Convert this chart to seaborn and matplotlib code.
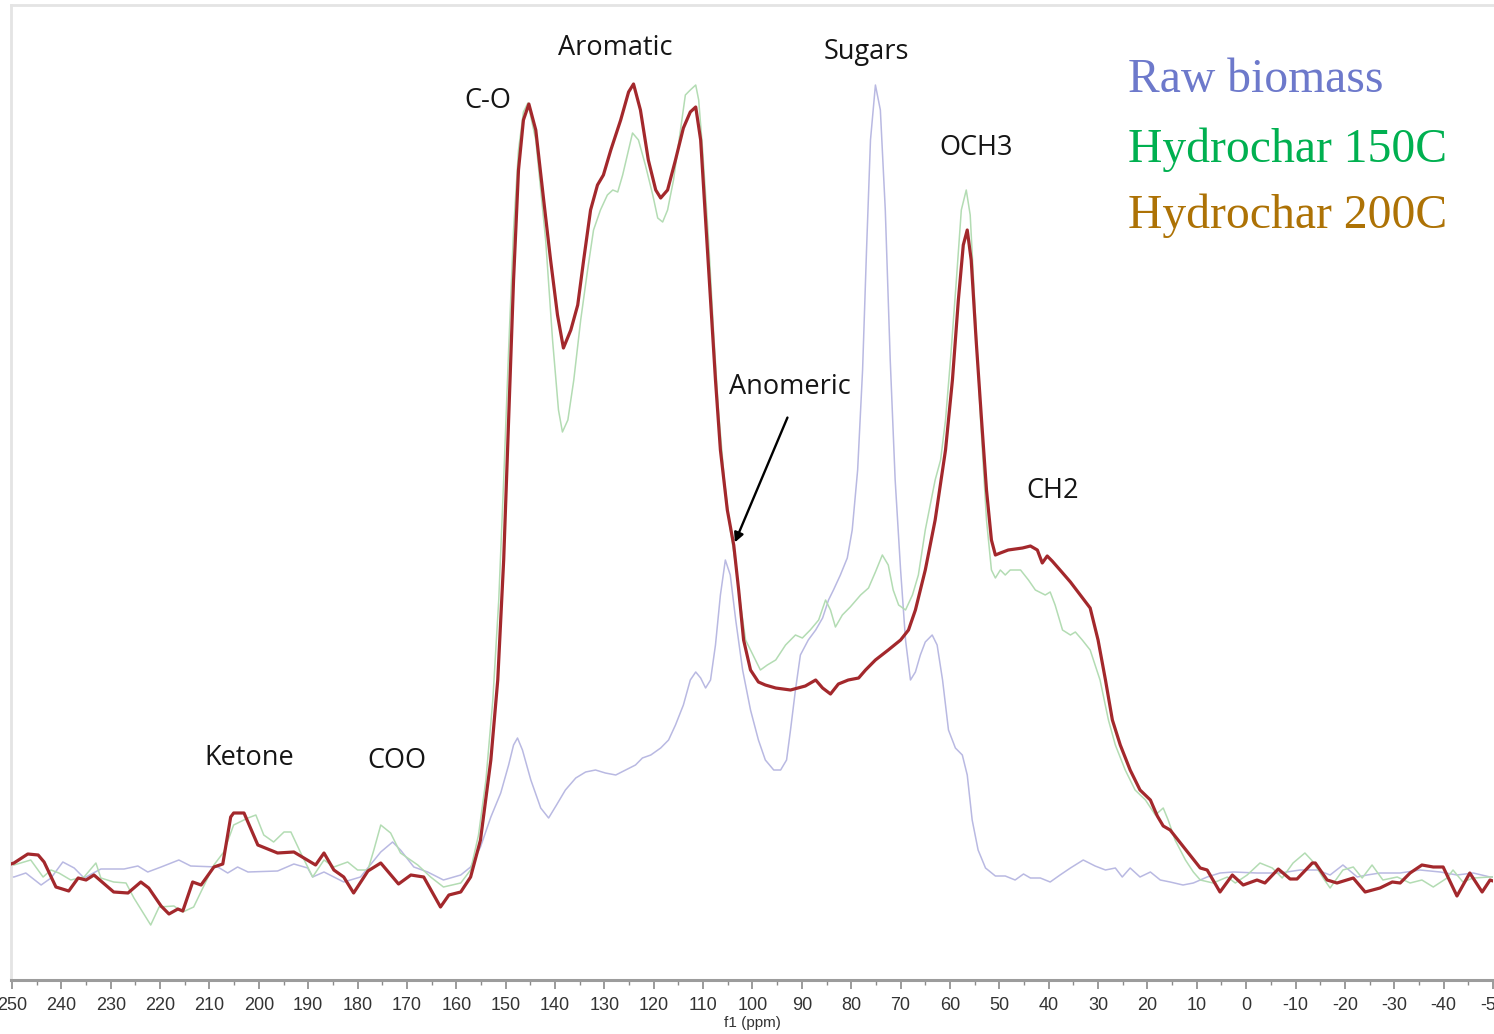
import numpy as np
import pandas as pd
import matplotlib
matplotlib.use("Agg")
import matplotlib.pyplot as plt
import seaborn as sns

# 13C NMR spectra: chemical shift (ppm) and relative intensity (a.u.)
raw_ppm = [250.2, 249.6, 247.2, 244.1, 242.1, 239.7, 237.4, 235.4, 232.0, 227.3, 224.5, 222.5, 219.8,
           216.2, 213.8, 208.3, 206.3, 204.3, 202.2, 196.2, 192.9, 190.1, 189.1, 186.8, 182.8, 179.4,
           175.3, 172.9, 171.3, 168.6, 165.8, 162.6, 159.1, 157.1, 155.1, 153.0, 151.0, 149.4, 148.4,
           147.6, 146.6, 144.9, 142.9, 141.3, 139.7, 137.9, 135.8, 133.8, 131.8, 129.8, 127.7, 125.7,
           123.7, 122.3, 120.6, 118.6, 117.0, 115.6, 114.0, 112.6, 111.5, 110.5, 109.5, 108.5, 107.5,
           106.5, 105.5, 104.5, 103.4, 102.0, 100.4, 98.8, 97.4, 95.7, 94.3, 93.1, 92.3, 91.3, 90.3,
           88.7, 87.2, 85.8, 84.6, 83.6, 82.2, 80.8, 79.8, 78.7, 77.7, 76.9, 76.1, 75.1, 74.1, 73.1,
           72.1, 71.1, 70.0, 69.0, 68.0, 67.0, 66.0, 65.0, 63.6, 62.6, 61.5, 60.3, 58.9, 57.5, 56.5,
           55.5, 54.3, 52.8, 50.8, 48.8, 46.8, 45.1, 43.7, 41.7, 39.7, 37.7, 35.6, 33.0, 30.6, 28.5,
           26.5, 25.1, 23.5, 21.5, 19.4, 17.4, 15.4, 12.8, 10.7, 7.9, 5.3, 2.6, -2.2, -6.9, -10.9,
           -14.4, -17.0, -19.6, -22.5, -24.5, -27.1, -31.2, -35.2, -39.3, -42.7, -46.0, -49.4, -50.0]
raw_int = [-0.2, -0.2, 0.2, -1.0, -0.3, 1.3, 0.7, -0.3, 0.6, 0.6, 0.9, 0.3, 0.8,
           1.5, 0.9, 0.8, 0.2, 0.8, 0.3, 0.4, 1.1, 0.7, -0.2, 0.3, -0.7, -0.2,
           2.3, 3.3, 2.5, 0.8, 0.3, -0.5, 0.0, 0.8, 2.8, 5.8, 8.2, 11.0, 13.0,
           13.7, 12.5, 9.5, 6.7, 5.7, 7.0, 8.5, 9.7, 10.3, 10.5, 10.2, 10.0, 10.5,
           11.0, 11.7, 12.0, 12.7, 13.5, 15.0, 17.0, 19.5, 20.3, 19.7, 18.7, 19.5, 23.0,
           28.0, 31.5, 30.0, 25.5, 20.5, 16.5, 13.5, 11.5, 10.5, 10.5, 11.5, 14.5, 18.5, 22.0,
           23.5, 24.5, 25.7, 27.5, 28.5, 30.0, 31.7, 34.5, 40.5, 50.5, 62.5, 73.5, 79.0, 76.5, 66.5,
           51.5, 39.5, 30.5, 23.5, 19.5, 20.3, 22.0, 23.3, 24.0, 23.0, 19.5, 14.5, 12.7, 12.0, 10.0,
           5.5, 2.5, 0.7, -0.1, -0.1, -0.5, 0.1, -0.3, -0.3, -0.7, 0.0, 0.7, 1.5, 0.9, 0.5,
           0.7, -0.2, 0.7, -0.2, 0.3, -0.5, -0.7, -1.0, -0.8, -0.2, 0.2, 0.3, 0.2, 0.2, 0.5,
           0.5, 0.0, 1.0, -0.2, 0.0, 0.2, 0.2, 0.5, 0.3, 0.0, 0.2, -0.2, -0.2]

hc150_ppm = [250.2, 249.6, 246.2, 243.7, 242.1, 240.5, 238.1, 235.4, 233.0, 232.0, 229.4, 226.9, 225.3,
             221.9, 220.2, 217.2, 215.4, 213.2, 209.1, 207.1, 205.1, 202.2, 200.6, 199.0, 197.0, 194.9,
             193.5, 191.5, 189.1, 186.8, 184.8, 182.0, 180.0, 177.9, 176.7, 175.3, 173.3, 171.3, 167.8,
             165.2, 162.6, 159.1, 157.1, 155.5, 154.0, 152.6, 151.4, 150.4, 149.4, 148.4, 147.4, 146.4,
             145.5, 143.9, 141.9, 140.5, 139.3, 138.5, 137.4, 136.2, 134.8, 133.4, 132.2, 130.8, 129.4,
             128.3, 127.3, 126.3, 125.1, 124.3, 123.1, 121.7, 120.2, 119.2, 118.2, 117.2, 116.0, 114.6,
             113.6, 112.6, 111.5, 110.9, 110.1, 108.9, 107.9, 106.9, 105.7, 104.5, 103.4, 102.4, 101.4,
             100.4, 99.4, 98.4, 97.0, 95.3, 93.3, 91.3, 89.9, 88.3, 86.6, 85.2, 84.2, 83.2, 81.8, 80.2,
             78.1, 76.5, 75.1, 73.7, 72.5, 71.5, 70.4, 69.0, 67.6, 66.4, 65.0, 63.0, 61.9, 60.9, 59.9,
             58.7, 57.7, 56.7, 55.9, 54.9, 53.8, 52.6, 51.6, 50.8, 49.8, 48.8, 47.8, 45.7, 44.1, 42.7,
             40.7, 39.7, 38.7, 37.2, 35.6, 34.6, 33.2, 31.6, 29.6, 27.9, 26.5, 24.5, 22.5, 20.4, 18.4,
             16.8, 15.8, 14.4, 12.3, 10.7, 9.3, 6.7, 3.8, 2.2, -0.2, -2.8, -5.3, -7.3, -9.5, -11.9,
             -13.6, -15.6, -17.0, -19.6, -21.7, -23.5, -25.5, -27.7, -30.6, -33.2, -35.6, -37.9, -40.7,
             -41.9, -43.9, -46.0, -49.4, -50.0]
hc150_int = [1.0, 1.0, 1.5, -0.2, 0.5, 0.2, -0.5, -0.2, 1.2, -0.3, -0.7, -0.8, -2.3,
             -5.0, -3.2, -3.1, -3.7, -3.2, 1.0, 2.3, 5.0, 5.7, 6.0, 4.0, 3.3, 4.3,
             4.3, 2.2, -0.2, 1.5, 0.8, 1.3, 0.5, 0.5, 2.5, 5.0, 4.2, 2.2, 1.0,
             -0.2, -1.2, -0.8, 0.5, 4.0, 9.5, 17.5, 27.5, 39.5, 52.5, 64.5, 72.5, 76.3,
             77.2, 73.5, 63.5, 53.5, 46.5, 44.3, 45.5, 49.5, 55.5, 60.5, 64.5, 66.5, 68.0,
             68.5, 68.3, 70.0, 72.5, 74.2, 73.5, 71.0, 68.0, 65.7, 65.3, 66.5, 69.5, 74.5,
             78.0, 78.5, 79.0, 77.5, 72.5, 63.5, 54.5, 46.5, 39.5, 34.5, 31.0, 27.0, 23.5,
             22.5, 21.5, 20.5, 21.0, 21.5, 23.0, 24.0, 23.7, 24.5, 25.5, 27.5, 26.5, 24.8, 26.0, 26.8,
             28.0, 28.7, 30.3, 32.0, 31.0, 28.5, 27.0, 26.5, 28.0, 30.0, 34.5, 39.5, 41.5, 45.5, 51.5,
             59.5, 66.5, 68.5, 66.0, 56.5, 45.5, 35.5, 30.5, 29.7, 30.5, 30.0, 30.5, 30.5, 29.5, 28.5,
             28.0, 28.3, 27.0, 24.5, 24.0, 24.3, 23.5, 22.5, 19.5, 15.5, 13.0, 10.5, 8.5, 7.5, 6.0,
             6.7, 5.5, 3.5, 1.5, 0.3, -0.5, -0.8, -0.2, -0.8, 0.0, 1.2, 0.7, -0.3, 1.2, 2.2,
             1.3, -0.3, -1.3, 0.5, 0.8, -0.3, 1.0, -0.5, -0.2, -0.8, -0.5, -1.2, -0.3,
             0.5, -0.7, -0.3, -0.2, -0.2]

hc200_ppm = [250.2, 249.6, 246.8, 244.7, 243.5, 241.1, 238.5, 236.6, 235.0, 233.4, 229.4, 226.5, 223.9,
             222.3, 219.8, 218.2, 216.4, 215.4, 213.4, 211.7, 209.1, 207.3, 205.7, 205.1, 203.0, 200.2,
             198.2, 196.2, 192.9, 188.5, 186.8, 184.8, 182.8, 180.8, 177.9, 175.3, 171.7, 169.2, 166.6,
             163.2, 161.5, 159.1, 157.1, 155.1, 153.0, 151.6, 150.4, 149.4, 148.4, 147.4, 146.4, 145.3,
             143.9, 142.3, 140.9, 139.5, 138.3, 136.8, 135.4, 134.2, 132.8, 131.4, 130.2, 128.7, 126.7,
             125.1, 124.1, 122.7, 121.1, 119.6, 118.6, 117.2, 115.6, 114.0, 112.6, 111.5, 110.5, 109.5,
             108.5, 107.5, 106.5, 105.1, 103.8, 102.8, 101.8, 100.4, 98.8, 97.4, 95.3, 92.3, 89.3, 87.2,
             85.8, 84.2, 82.6, 80.6, 78.5, 77.1, 75.1, 72.5, 70.0, 68.4, 67.0, 65.0, 63.0, 60.9, 59.5,
             58.3, 57.3, 56.5, 55.7, 54.7, 53.6, 52.6, 51.6, 50.8, 49.8, 48.2, 46.8, 45.3, 43.7, 42.3,
             41.3, 40.3, 39.3, 37.7, 35.6, 33.6, 31.6, 30.0, 28.5, 27.1, 25.5, 23.5, 21.5, 19.4, 18.0,
             16.8, 15.4, 13.8, 11.9, 10.3, 9.3, 7.9, 5.3, 2.8, 0.6, -2.2, -3.8, -6.5, -8.9, -10.3,
             -13.4, -14.0, -16.4, -18.4, -21.7, -24.1, -27.1, -29.6, -31.2, -33.2, -35.6, -37.9, -39.9,
             -42.7, -45.3, -47.8, -49.4, -50.0]
hc200_int = [1.1, 1.2, 2.1, 2.0, 1.3, -1.2, -1.6, -0.3, -0.5, 0.0, -1.7, -1.8, -0.7,
             -1.3, -3.1, -3.9, -3.4, -3.6, -0.7, -1.0, 0.8, 1.1, 5.8, 6.2, 6.2, 3.0,
             2.6, 2.2, 2.3, 1.0, 2.2, 0.5, -0.2, -1.8, 0.4, 1.2, -0.9, 0.0, -0.2,
             -3.2, -2.0, -1.7, -0.2, 3.5, 11.5, 19.5, 31.5, 45.5, 59.5, 70.5, 75.5, 77.1,
             74.5, 67.5, 61.5, 56.0, 52.7, 54.5, 57.0, 61.5, 66.5, 69.0, 70.0, 72.5, 75.5,
             78.3, 79.1, 76.5, 71.5, 68.5, 67.7, 68.5, 71.5, 74.7, 76.3, 76.8, 73.5, 65.5,
             57.5, 49.5, 42.5, 36.5, 33.0, 28.5, 23.5, 20.5, 19.3, 19.0, 18.7, 18.5, 18.9, 19.5,
             18.7, 18.1, 19.1, 19.5, 19.7, 20.5, 21.5, 22.5, 23.5, 24.5, 26.5, 30.5, 35.5, 42.5, 49.5,
             57.5, 63.0, 64.5, 61.5, 53.5, 45.5, 38.5, 33.5, 32.0, 32.2, 32.5, 32.6, 32.7, 32.9, 32.5,
             31.2, 31.9, 31.4, 30.5, 29.3, 28.0, 26.7, 23.5, 19.5, 15.5, 13.0, 10.5, 8.5, 7.5, 5.9,
             4.9, 4.5, 3.5, 2.3, 1.3, 0.7, 0.5, -1.7, 0.0, -1.0, -0.5, -0.8, 0.6, -0.4, -0.4,
             1.2, 1.2, -0.5, -0.8, -0.3, -1.7, -1.3, -0.7, -0.8, 0.2, 1.0, 0.8, 0.8,
             -2.1, 0.2, -1.7, -0.5, -0.6]

series_names = ["Raw biomass", "Hydrochar 150C", "Hydrochar 200C"]
line_colors = ["#b9b9e2", "#b3dcb3", "#a3282c"]
label_colors = ["#6d79cb", "#00b050", "#ad7205"]

# Peak assignments: (text, ppm, intensity)
peak_labels = [("Aromatic", 127.9, 82.7), ("C-O", 153.6, 77.4), ("Sugars", 76.9, 82.3),
               ("OCH3", 54.7, 72.7), ("Anomeric", 92.5, 48.8), ("CH2", 39.1, 38.4),
               ("Ketone", 202.0, 11.7), ("COO", 172.1, 11.4)]

df = pd.concat([
    pd.DataFrame({"ppm": raw_ppm, "intensity": raw_int, "sample": series_names[0]}),
    pd.DataFrame({"ppm": hc150_ppm, "intensity": hc150_int, "sample": series_names[1]}),
    pd.DataFrame({"ppm": hc200_ppm, "intensity": hc200_int, "sample": series_names[2]}),
], ignore_index=True)

sns.set_theme(style="white")
plt.rcParams["font.family"] = ["Open Sans", "DejaVu Sans"]
tick_family = ["Liberation Sans Narrow", "Liberation Sans", "DejaVu Sans"]

fig = plt.figure(figsize=(14.94, 10.34), dpi=100)
ax = fig.add_axes([11 / 1494, 1 - 980 / 1034, 1482 / 1494, 975 / 1034])

widths = [1.1, 1.1, 2.3]
for name, col, lw, z in zip(series_names, line_colors, widths, [2, 2, 3]):
    sns.lineplot(data=df[df["sample"] == name], x="ppm", y="intensity", color=col,
                 linewidth=lw, estimator=None, sort=False, ax=ax, zorder=z)

ax.set_xlim(250.2, -50.0)
ax.set_ylim(-10.5, 87.0)

# axis styling
for side in ["top", "left"]:
    ax.spines[side].set_color("#e4e4e4")
    ax.spines[side].set_linewidth(2)
ax.spines["right"].set_visible(False)
ax.spines["bottom"].set_color("#9c9c9c")
ax.spines["bottom"].set_linewidth(2.2)

ax.set_xticks(np.arange(250, -51, -10))
ax.set_xticks(np.arange(245, -51, -10), minor=True)
ax.set_xticklabels([f"{int(t)}" for t in np.arange(250, -51, -10)])
ax.tick_params(axis="x", which="major", direction="out", length=6.5, width=1.2,
               color="#8a8a8a", pad=6, labelsize=13, labelcolor="#333333", bottom=True)
ax.tick_params(axis="x", which="minor", direction="out", length=3.5, width=1.0,
               color="#8a8a8a", bottom=True)
for lab in ax.get_xticklabels():
    lab.set_family(tick_family)
ax.set_yticks([])
ax.set_ylabel("")
ax.set_xlabel("f1 (ppm)", fontsize=11, color="#333333", labelpad=1, family=tick_family)

for text, px, py in peak_labels:
    ax.text(px, py, text, ha="center", va="center", fontsize=19.5, color="#151515")

ax.annotate("", xy=(103.8, 33.0), xytext=(92.7, 46.0),
            arrowprops=dict(arrowstyle="-|>", color="black", lw=1.7, mutation_scale=14))

# series legend as coloured text
for (name, col), yy in zip(zip(series_names, label_colors), [0.923, 0.852, 0.784]):
    ax.text(0.754, yy, name, transform=ax.transAxes, ha="left", va="center",
            fontsize=34.3, color=col, family=["Liberation Serif", "DejaVu Serif"])

fig.savefig("out.png", dpi=100, facecolor="white")
